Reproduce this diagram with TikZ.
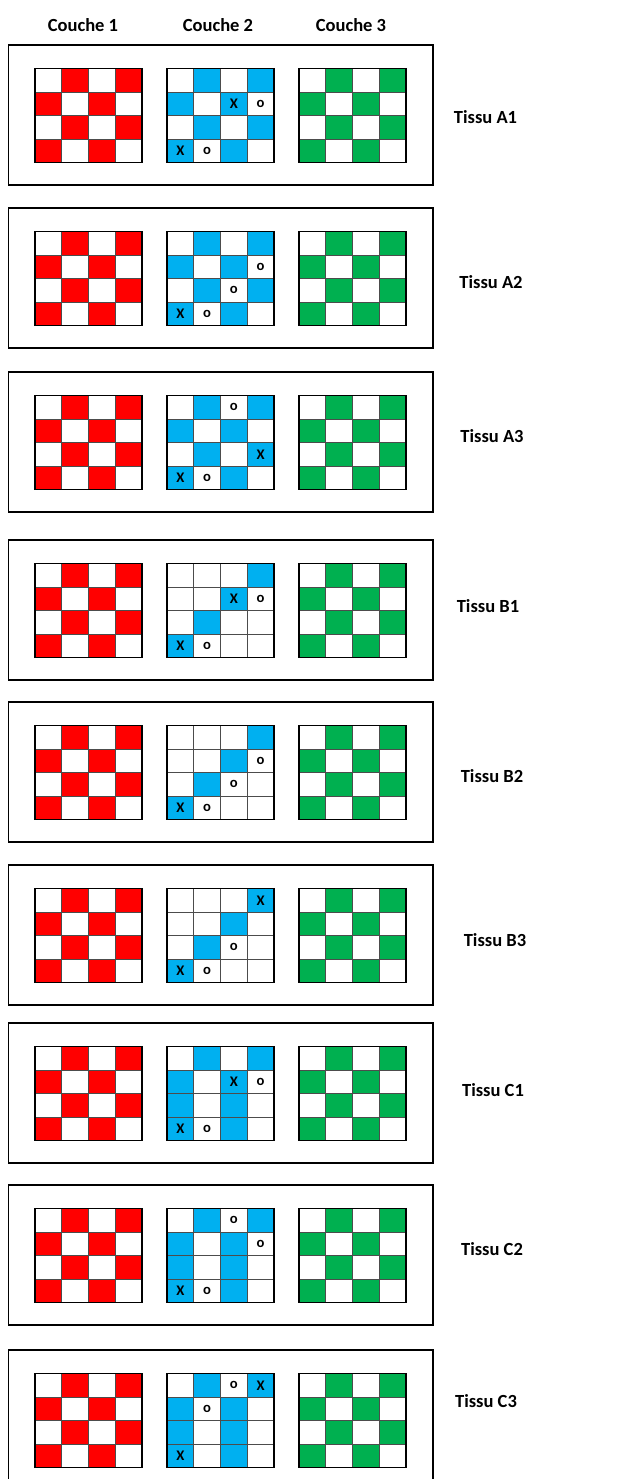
\documentclass[tikz,border=0pt]{standalone}
\usepackage{fontspec}
\setmainfont{Carlito}
\usepackage{tikz}
\usetikzlibrary{positioning}
\definecolor{rouge}{HTML}{FF0000}
\definecolor{bleu}{HTML}{00B0F0}
\definecolor{vert}{HTML}{00B050}
\tikzset{
    cadre/.style={draw=black, line width=1.6pt},
    trait/.style={draw=black!70, line width=0.6pt},
    bord/.style={draw=black, line width=1.4pt},
    titre/.style={font=\fontsize{15.8}{18}\selectfont\bfseries, inner sep=0pt},
    marque/.style={font=\fontsize{12.5}{14}\selectfont\bfseries, inner sep=0pt}
}

% grille 4x4 : x0, y0
\newcommand{\grille}[2]{%
    \foreach \c in {1,2,3} \draw[trait] ({#1+\c*26.75},#2) -- +(0,94);
    \foreach \r in {1,2,3} \draw[trait] (#1,{#2+\r*23.5}) -- +(107,0);
    \draw[bord] (#1,#2) rectangle +(107,94);
}

% damier : x0, y0, couleur
\newcommand{\damier}[3]{%
    \foreach \c in {0,...,3}{
        \foreach \r in {0,...,3}{
            \pgfmathparse{int(mod(\c+\r,2))}
            \ifnum\pgfmathresult=1
                \fill[#3] ({#1+\c*26.75},{#2+\r*23.5}) rectangle +(26.75,23.5);
            \fi
        }
    }
    \grille{#1}{#2}
}

% tissu : nom, haut, cases bleues, marques, position du nom
\newcommand{\tissu}[5]{%
    \draw[cadre] (8.5,#2) rectangle (433,#2+140);
    \damier{35}{#2+23.5}{rouge}
    \foreach \c/\r in {#3}
        \fill[bleu] ({167+\c*26.75},{#2+23.5+\r*23.5}) rectangle +(26.75,23.5);
    \grille{167}{#2+23.5}
    \damier{299}{#2+23.5}{vert}
    \foreach \c/\r/\lettre in {#4}
        \node[marque] (m#1-\c-\r) at ({167+(\c+0.5)*26.75},{#2+23.5+(\r+0.5)*23.5}) {\lettre};
    \node[titre] (t#1) at (#5) {Tissu #1};
}

\begin{document}
\begin{tikzpicture}[x=0.03cm, y=-0.03cm]
\clip (0,0) rectangle (628,1479);

\node[titre] (c1) at (83,25) {Couche 1};
\node[titre] (c2) at (218,25) {Couche 2};
\node[titre] (c3) at (351,25) {Couche 3};

\tissu{A1}{45}{1/0,3/0,0/1,2/1,1/2,3/2,0/3,2/3}{2/1/X,3/1/o,0/3/X,1/3/o}{485.5,117}
\tissu{A2}{208}{1/0,3/0,0/1,2/1,1/2,3/2,0/3,2/3}{3/1/o,2/2/o,0/3/X,1/3/o}{491,282}
\tissu{A3}{372}{1/0,3/0,0/1,2/1,1/2,3/2,0/3,2/3}{2/0/o,3/2/X,0/3/X,1/3/o}{492,436}

\tissu{B1}{540}{3/0,2/1,1/2,0/3}{2/1/X,3/1/o,0/3/X,1/3/o}{488,606}
\tissu{B2}{702}{3/0,2/1,1/2,0/3}{3/1/o,2/2/o,0/3/X,1/3/o}{492,776}
\tissu{B3}{865}{3/0,2/1,1/2,0/3}{3/0/X,2/2/o,0/3/X,1/3/o}{495,940}

\tissu{C1}{1023}{1/0,3/0,0/1,2/1,0/2,2/2,0/3,2/3}{2/1/X,3/1/o,0/3/X,1/3/o}{493,1090}
\tissu{C2}{1185}{1/0,3/0,0/1,2/1,0/2,2/2,0/3,2/3}{2/0/o,3/1/o,0/3/X,1/3/o}{492,1249}
\tissu{C3}{1350}{1/0,3/0,0/1,2/1,0/2,2/2,0/3,2/3}{2/0/o,3/0/X,1/1/o,0/3/X}{486,1401}

\end{tikzpicture}
\end{document}
